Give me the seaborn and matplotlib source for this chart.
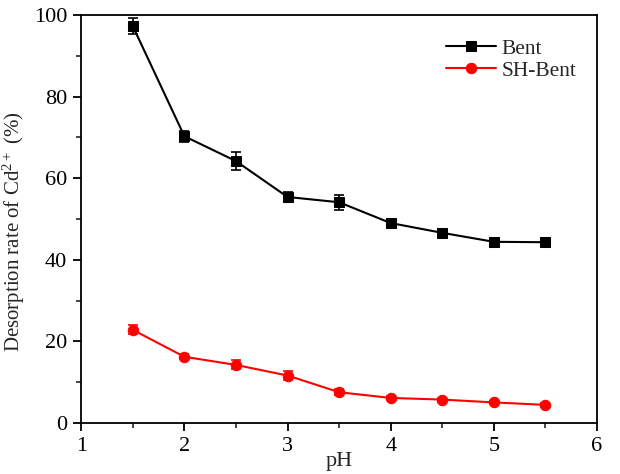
import matplotlib
matplotlib.use("Agg")
import matplotlib.pyplot as plt
from matplotlib.ticker import MultipleLocator
import seaborn as sns
import pandas as pd

ph = [1.5, 2.0, 2.5, 3.0, 3.5, 4.0, 4.5, 5.0, 5.5]
bent = [97.3, 70.3, 64.2, 55.4, 54.1, 49.0, 46.6, 44.4, 44.3]
bent_err = [2.0, 1.3, 2.3, 1.1, 1.9, 1.0, 0.9, 0.6, 0.6]
sh_bent = [22.8, 16.2, 14.2, 11.6, 7.5, 6.1, 5.7, 5.0, 4.4]
sh_bent_err = [1.1, 0.6, 1.1, 1.1, 0.7, 0.5, 0.5, 0.4, 0.4]

sns.set_theme(style="ticks")
plt.rcParams["font.family"] = ["Liberation Serif", "DejaVu Serif"]
plt.rcParams["mathtext.fontset"] = "custom"
plt.rcParams["mathtext.rm"] = "Liberation Serif"

df = pd.DataFrame({
    "pH": ph * 2,
    "rate": bent + sh_bent,
    "Sample": ["Bent"] * len(ph) + ["SH-Bent"] * len(ph),
})

fig = plt.figure(figsize=(6.2, 4.74), dpi=100)
ax = fig.add_axes([0.131, 0.108, 0.832, 0.860])

palette = {"Bent": "black", "SH-Bent": "red"}
sns.lineplot(data=df, x="pH", y="rate", hue="Sample", style="Sample",
             markers={"Bent": "s", "SH-Bent": "o"}, dashes=False,
             palette=palette, markersize=7.5, linewidth=1.5,
             markeredgecolor=None, ax=ax)

ax.errorbar(ph, bent, yerr=bent_err, fmt="none", ecolor="black",
            elinewidth=1.2, capsize=3.5, capthick=1.2)
ax.errorbar(ph, sh_bent, yerr=sh_bent_err, fmt="none", ecolor="red",
            elinewidth=1.2, capsize=3.5, capthick=1.2)

ax.set_xlim(1, 6)
ax.set_ylim(0, 100)
ax.xaxis.set_major_locator(MultipleLocator(1))
ax.xaxis.set_minor_locator(MultipleLocator(0.5))
ax.yaxis.set_major_locator(MultipleLocator(20))
ax.yaxis.set_minor_locator(MultipleLocator(10))
ax.tick_params(which="major", direction="out", length=6, width=1.3,
               labelsize=16, colors="black", pad=4)
ax.tick_params(which="minor", direction="out", length=3.5, width=1.2)
for s in ax.spines.values():
    s.set_linewidth(1.3)
    s.set_color("black")

ax.set_xlabel("pH", fontsize=16, labelpad=-3)
ax.set_ylabel(r"Desorption rate of $\mathregular{Cd^{2+}}$ (%)", fontsize=15)
ax.yaxis.set_label_coords(-0.105, 0.47)

handles, labels = ax.get_legend_handles_labels()
ax.legend(handles, labels, loc="upper right", bbox_to_anchor=(0.997, 0.99),
          frameon=False, fontsize=15.5, handlelength=2.3, handletextpad=0.25,
          labelspacing=0.1)

fig.savefig("out.png", dpi=100, facecolor="white")
